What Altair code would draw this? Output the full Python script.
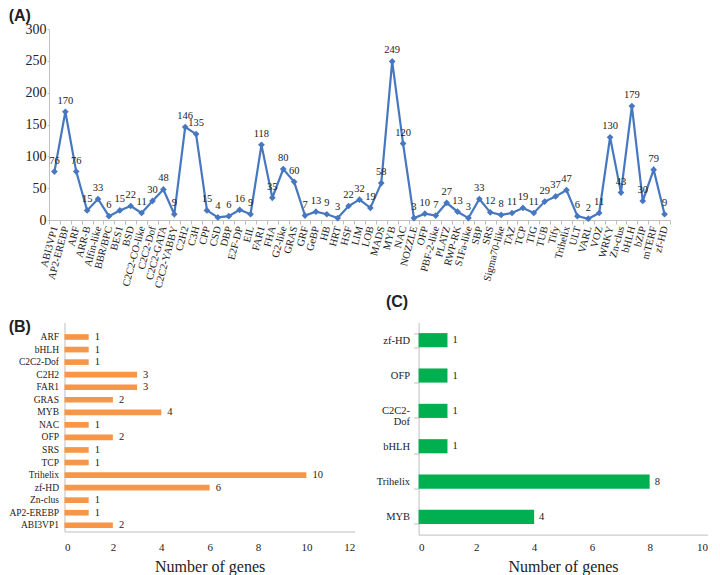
import altair as alt
import pandas as pd

# Panel A: number of TFs per family
families = ["ABI3VP1", "AP2-EREBP", "ARF", "ARR-B", "Alfin-like", "BBR/BPC", "BES1", "BSD",
            "C2C2-CO-like", "C2C2-Dof", "C2C2-GATA", "C2C2-YABBY", "C2H2", "C3H", "CPP", "CSD",
            "DBP", "E2F-DP", "EIL", "FAR1", "FHA", "G2-like", "GRAS", "GRF", "GeBP", "HB", "HRT",
            "HSF", "LIM", "LOB", "MADS", "MYB", "NAC", "NOZZLE", "OFP", "PBF-2-like", "PLATZ",
            "RWP-RK", "S1Fa-like", "SBP", "SRS", "Sigma70-like", "TAZ", "TCP", "TIG", "TUB", "Tify",
            "Trihelix", "ULT", "VARL", "VOZ", "WRKY", "Zn-clus", "bHLH", "bZIP", "mTERF", "zf-HD"]
counts = [76, 170, 76, 15, 33, 6, 15, 22, 11, 30, 48, 9, 146, 135, 15, 4, 6, 16, 9, 118, 35, 80,
          60, 7, 13, 9, 3, 22, 32, 19, 58, 249, 120, 3, 10, 7, 27, 13, 3, 33, 12, 8, 11, 19, 11,
          29, 37, 47, 6, 2, 11, 130, 43, 179, 30, 79, 9]

# Panel B
b_families = ["ARF", "bHLH", "C2C2-Dof", "C2H2", "FAR1", "GRAS", "MYB", "NAC", "OFP", "SRS",
              "TCP", "Trihelix", "zf-HD", "Zn-clus", "AP2-EREBP", "ABI3VP1"]
b_counts = [1, 1, 1, 3, 3, 2, 4, 1, 2, 1, 1, 10, 6, 1, 1, 2]

# Panel C
c_families = ["zf-HD", "OFP", "C2C2-Dof", "bHLH", "Trihelix", "MYB"]
c_counts = [1, 1, 1, 1, 8, 4]

SERIF = "Liberation Serif"
SANS = "Liberation Sans"
TXT = "#222222"
AXC = "#bfbfbf"
BLUE = "#4677c0"
ORANGE = "#f79646"
GREEN = "#00b050"


def panel_title(text, dx, offset, dy=0):
    return alt.TitleParams(text, anchor="start", frame="group", dx=dx, dy=dy, offset=offset,
                           baseline="middle", font=SANS, fontSize=16, fontWeight="bold",
                           color=TXT)


dfA = pd.DataFrame({"family": families, "count": counts})
xA = alt.X("family:N", sort=families, title=None,
           scale=alt.Scale(type="band", paddingInner=0, paddingOuter=0),
           axis=alt.Axis(labelAngle=285, labelAlign="right", labelBaseline="middle",
                         labelFont=SERIF, labelFontSize=10.5, labelColor=TXT,
                         tickBand="extent", tickSize=4, tickColor=AXC, domainColor=AXC,
                         labelPadding=2, labelOverlap=False))
yA = alt.Y("count:Q", title=None, scale=alt.Scale(domain=[0, 300], nice=False),
           axis=alt.Axis(values=[0, 50, 100, 150, 200, 250, 300], labelFont=SERIF,
                         labelFontSize=14, labelColor=TXT, tickSize=2, tickColor=AXC,
                         domainColor=AXC, labelPadding=1))
baseA = alt.Chart(dfA).encode(x=xA, y=yA)
lineA = baseA.mark_line(color=BLUE, strokeWidth=2.2)
ptsA = baseA.mark_point(shape="diamond", filled=True, size=45, color=BLUE, opacity=1)
lblA = baseA.mark_text(dy=-11, font=SERIF, fontSize=10.5, color=TXT).encode(text="count:Q")
A = alt.layer(lineA, ptsA, lblA).properties(
    width=621, height=191, title=panel_title("(A)", -40.3, 15, dy=25))

dfB = pd.DataFrame({"family": b_families, "count": b_counts})
xB = alt.X("count:Q", title="Number of genes",
           scale=alt.Scale(domain=[0, 12], range=[15.5, 305.8], nice=False),
           axis=alt.Axis(values=[0, 2, 4, 6, 8, 10, 12], labelFont=SERIF, labelFontSize=11,
                         labelColor=TXT, ticks=False, domainColor=AXC, labelPadding=10,
                         titleFont=SERIF, titleFontSize=16, titleFontWeight="normal",
                         titleColor=TXT, titlePadding=6))
yB = alt.Y("family:N", sort=b_families, title=None,
           scale=alt.Scale(paddingInner=0.55, paddingOuter=0.6016, align=0.7735),
           axis=alt.Axis(offset=-15.5, ticks=False, domainColor=AXC, labelFont=SERIF,
                         labelFontSize=9.5, labelColor=TXT, labelPadding=6))
baseB = alt.Chart(dfB).encode(x=xB, y=yB)
barB = baseB.mark_bar(color=ORANGE)
lblB = baseB.mark_text(align="left", baseline="middle", dx=6, font=SERIF, fontSize=10.5,
                       color=TXT).encode(text="count:Q")
B = alt.layer(barB, lblB).properties(width=305.8, height=209,
                                     title=panel_title("(B)", -40.3, 0, dy=20.7))

dfC = pd.DataFrame({"family": c_families, "count": c_counts})
xC = alt.X("count:Q", title="Number of genes",
           scale=alt.Scale(domain=[0, 10], nice=False),
           axis=alt.Axis(values=[0, 2, 4, 6, 8, 10], labelFont=SERIF, labelFontSize=11,
                         labelColor=TXT, ticks=False, domainColor=AXC, labelPadding=7,
                         titleFont=SERIF, titleFontSize=16, titleFontWeight="normal",
                         titleColor=TXT, titlePadding=6))
yC = alt.Y("family:N", sort=c_families, title=None,
           scale=alt.Scale(paddingInner=0.6, paddingOuter=0.3),
           axis=alt.Axis(tickBand="extent", tickSize=5, tickColor=AXC, domainColor=AXC,
                         labelFont=SERIF, labelFontSize=10.5, labelColor=TXT, labelPadding=4,
                         labelLineHeight=11,
                         labelExpr="datum.value == 'C2C2-Dof' ? ['C2C2-', 'Dof'] : datum.label"))
baseC = alt.Chart(dfC).encode(x=xC, y=yC)
barC = baseC.mark_bar(color=GREEN)
lblC = baseC.mark_text(align="left", baseline="middle", dx=5, font=SERIF, fontSize=10.5,
                       color=TXT).encode(text="count:Q")
C = alt.layer(barC, lblC).properties(width=288.8, height=212.1,
                                     title=panel_title("(C)", -32.7, 20.6, dy=20.7))

row2 = alt.hconcat(B, C, spacing=63.6, bounds="flush")
chart = alt.vconcat(A, row2, spacing=102.5, bounds="flush").properties(
    padding=0, background="white"
).configure_view(stroke=None).configure_axis(grid=False)

chart.save("out.html", embed_options={"renderer": "svg", "actions": False})
